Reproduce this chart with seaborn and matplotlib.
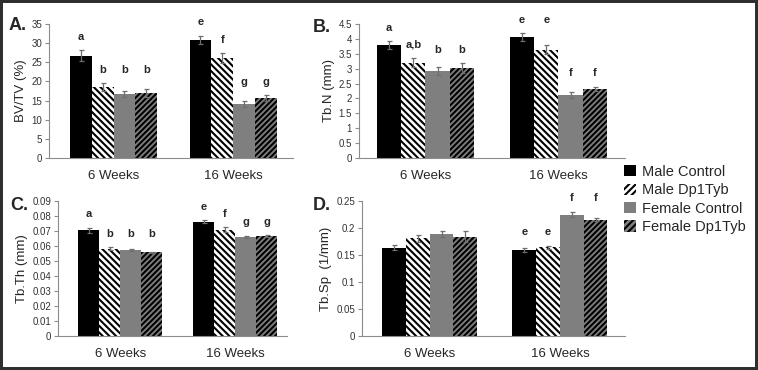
import numpy as np
import pandas as pd
import matplotlib
matplotlib.use('Agg')
import matplotlib.pyplot as plt
from matplotlib.patches import Patch, Rectangle
from matplotlib.ticker import MultipleLocator, FuncFormatter
import seaborn as sns

# ---- data ----
groups = ['6 Weeks', '16 Weeks']
genotypes = ['Male Control', 'Male Dp1Tyb', 'Female Control', 'Female Dp1Tyb']

bvtv_6w = [26.7, 18.5, 16.8, 16.9]
bvtv_16w = [30.9, 26.0, 14.1, 15.6]
bvtv_err_6w = [1.4, 1.0, 0.8, 1.0]
bvtv_err_16w = [1.0, 1.3, 0.8, 0.8]
bvtv_let_6w = ['a', 'b', 'b', 'b']
bvtv_let_16w = ['e', 'f', 'g', 'g']

tbn_6w = [3.80, 3.20, 2.93, 3.01]
tbn_16w = [4.06, 3.64, 2.10, 2.32]
tbn_err_6w = [0.13, 0.15, 0.14, 0.17]
tbn_err_16w = [0.14, 0.15, 0.10, 0.07]
tbn_let_6w = ['a', 'a,b', 'b', 'b']
tbn_let_16w = ['e', 'e', 'f', 'f']

tbth_6w = [0.0705, 0.0580, 0.0575, 0.0557]
tbth_16w = [0.0761, 0.0709, 0.0661, 0.0665]
tbth_err_6w = [0.0018, 0.0010, 0.0006, 0.0006]
tbth_err_16w = [0.0010, 0.0015, 0.0006, 0.0007]
tbth_let_6w = ['a', 'b', 'b', 'b']
tbth_let_16w = ['e', 'f', 'g', 'g']

tbsp_6w = [0.1636, 0.1808, 0.1887, 0.1838]
tbsp_16w = [0.1587, 0.1642, 0.2249, 0.2157]
tbsp_err_6w = [0.005, 0.006, 0.006, 0.010]
tbsp_err_16w = [0.004, 0.003, 0.005, 0.003]
tbsp_let_6w = ['', '', '', '']
tbsp_let_16w = ['e', 'e', 'f', 'f']

# ---- style ----
sns.set_style('white')
plt.rcParams['font.family'] = ['Liberation Sans', 'DejaVu Sans']
plt.rcParams['hatch.linewidth'] = 1.5

face = {'Male Control': '#000000', 'Male Dp1Tyb': '#ffffff',
        'Female Control': '#7f7f7f', 'Female Dp1Tyb': '#7f7f7f'}
hatch = {'Male Control': '', 'Male Dp1Tyb': '\\' * 5,
         'Female Control': '', 'Female Dp1Tyb': '/' * 6}
axis_gray = '#8c8c8c'


def long_table(v6, v16, e6, e16, l6, l16):
    rows = []
    for wk, vals, errs, labs in [(groups[0], v6, e6, l6), (groups[1], v16, e16, l16)]:
        for g, v, e, l in zip(genotypes, vals, errs, labs):
            rows.append(dict(week=wk, genotype=g, value=v, err=e, letter=l))
    return pd.DataFrame(rows)


def draw_panel(ax, df, ymax, step, ylabel, xlim):
    sns.barplot(data=df, x='week', y='value', hue='genotype', order=groups,
                hue_order=genotypes, palette=face, saturation=1, width=0.73,
                errorbar=None, legend=False, ax=ax)
    # hatches, error bars
    bar_info = []
    for h, cont in enumerate(ax.containers):
        g = genotypes[h]
        for bar in cont:
            bar.set_edgecolor('black')
            bar.set_linewidth(0)
            bar.set_hatch(hatch[g])
            xc = bar.get_x() + bar.get_width() / 2
            wk = groups[int(round(xc))]
            row = df[(df.week == wk) & (df.genotype == g)].iloc[0]
            bar_info.append((xc, bar.get_height(), row.err, row.letter, wk))
    xs = [b[0] for b in bar_info]
    ys = [b[1] for b in bar_info]
    es = [b[2] for b in bar_info]
    ax.errorbar(xs, ys, yerr=es, fmt='none', ecolor='#6e6e6e',
                elinewidth=0.9, capsize=1.8, capthick=0.9)
    # significance letters: same letter in a group sits at one height
    for xc, y, e, let, wk in bar_info:
        if not let:
            continue
        top = max(b[1] + b[2] for b in bar_info if b[4] == wk and b[3] == let)
        ax.text(xc, top + 0.1 * ymax, let, ha='center', va='center',
                fontsize=8, fontweight='bold', clip_on=False)

    ax.set_ylim(0, ymax)
    ax.set_xlim(*xlim)
    ax.yaxis.set_major_locator(MultipleLocator(step))
    ax.yaxis.set_major_formatter(FuncFormatter(lambda v, p: '{:g}'.format(round(v, 6))))
    ax.set_xlabel('')
    ax.set_ylabel(ylabel, fontsize=9.5, labelpad=3)
    sns.despine(ax=ax)
    for s in ['left', 'bottom']:
        ax.spines[s].set_color(axis_gray)
        ax.spines[s].set_linewidth(0.8)
    ax.tick_params(axis='y', length=3, width=0.8, color=axis_gray,
                   labelsize=7, labelcolor='#333333', pad=2, left=True)
    ax.tick_params(axis='x', length=0, labelsize=9.5, pad=9)


fig = plt.figure(figsize=(7.58, 3.70), dpi=100)
axA = fig.add_axes([0.0646, 0.573, 0.3219, 0.3622])
axB = fig.add_axes([0.4736, 0.573, 0.3509, 0.3622])
axC = fig.add_axes([0.0765, 0.0919, 0.3021, 0.3649])
axD = fig.add_axes([0.4776, 0.0919, 0.3470, 0.3649])

draw_panel(axA, long_table(bvtv_6w, bvtv_16w, bvtv_err_6w, bvtv_err_16w, bvtv_let_6w, bvtv_let_16w),
           35, 5, 'BV/TV (%)', (-0.54, 1.5))
draw_panel(axB, long_table(tbn_6w, tbn_16w, tbn_err_6w, tbn_err_16w, tbn_let_6w, tbn_let_16w),
           4.5, 0.5, 'Tb.N (mm)', (-0.5, 1.5))
draw_panel(axC, long_table(tbth_6w, tbth_16w, tbth_err_6w, tbth_err_16w, tbth_let_6w, tbth_let_16w),
           0.09, 0.01, 'Tb.Th (mm)', (-0.54, 1.45))
draw_panel(axD, long_table(tbsp_6w, tbsp_16w, tbsp_err_6w, tbsp_err_16w, tbsp_let_6w, tbsp_let_16w),
           0.25, 0.05, 'Tb.Sp  (1/mm)', (-0.52, 1.5))

# panel tags
for tag, (px, py) in zip(['A.', 'B.', 'C.', 'D.'], [(18, 25), (322, 27), (19, 205), (322, 205)]):
    fig.text(px / 758, 1 - py / 370, tag, fontsize=13, fontweight='bold',
             ha='center', va='center')

# legend (icons of both Dp1Tyb groups drawn with the same slant, as in the original)
handles = [Patch(facecolor=face[g], edgecolor='black', linewidth=0,
                 hatch='/' * 5 if 'Dp1Tyb' in g else '') for g in genotypes]
fig.legend(handles, genotypes, loc='center left', bbox_to_anchor=(624 / 758, 1 - 199.5 / 370),
           frameon=False, fontsize=10.5, handlelength=0.8, handleheight=0.8,
           handletextpad=0.4, labelspacing=0.3, borderpad=0, borderaxespad=0)

# outer frame
fig.patches.append(Rectangle((0, 0), 1, 1, transform=fig.transFigure, fill=False,
                             edgecolor='#2e2e2e', linewidth=4.3))

fig.savefig('out.png', dpi=100)
